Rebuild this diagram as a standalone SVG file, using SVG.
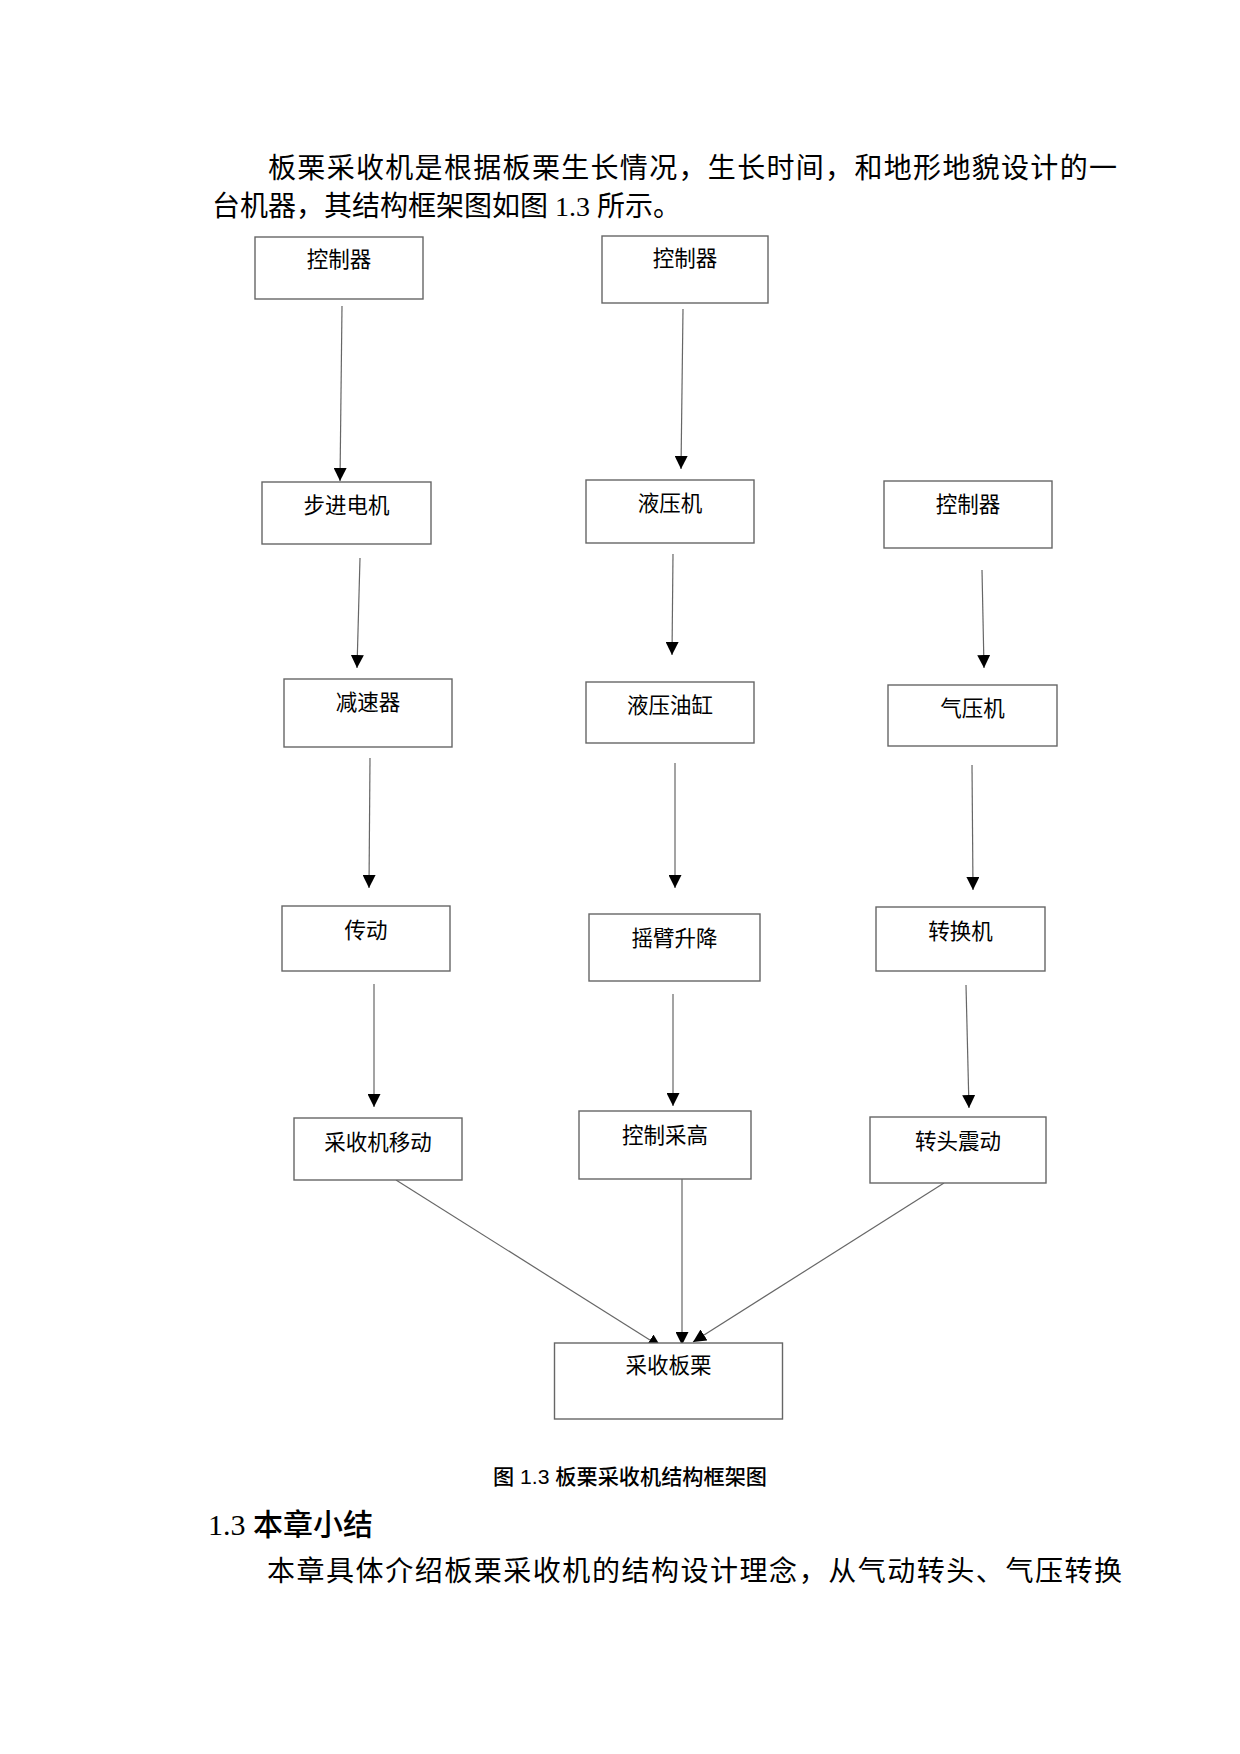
<svg xmlns="http://www.w3.org/2000/svg" width="1240" height="1754" viewBox="0 0 1240 1754">
<style>
.body{font-family:"Liberation Serif","Noto Sans CJK SC",serif;font-size:28px;fill:#000}
.head{font-family:"Liberation Serif","Noto Sans CJK SC",sans-serif;font-size:30px;font-weight:500;fill:#000}
.cap{font-family:"Liberation Sans","Noto Sans CJK SC",sans-serif;font-size:21px;font-weight:500;fill:#000}
.box{fill:#fff;stroke:#666;stroke-width:1.4}
.lbl{font-family:"Liberation Serif","Noto Sans CJK SC",serif;font-size:21.5px;fill:#000;text-anchor:middle}
.conn{stroke:#666;stroke-width:1.2;fill:none;marker-end:url(#ah)}
</style>
<defs>
<marker id="ah" markerUnits="userSpaceOnUse" markerWidth="14" markerHeight="13" refX="13" refY="6.5" orient="auto" viewBox="0 0 14 13">
<path d="M0,0 L13,6.5 L0,13 z" fill="#000"/>
</marker>
</defs>
<rect width="1240" height="1754" fill="#fff"/>
<text class="body" x="268" y="178" textLength="849" lengthAdjust="spacing">板栗采收机是根据板栗生长情况，生长时间，和地形地貌设计的一</text>
<text class="body" x="212" y="216">台机器，其结构框架图如图 1.3 所示。</text>

<g id="connectors">
<line class="conn" x1="342" y1="306" x2="340" y2="481"/>
<line class="conn" x1="683" y1="309" x2="681" y2="469"/>
<line class="conn" x1="360" y1="558" x2="357" y2="668"/>
<line class="conn" x1="673" y1="554" x2="672" y2="655"/>
<line class="conn" x1="982" y1="570" x2="984" y2="668"/>
<line class="conn" x1="370" y1="758" x2="369" y2="888"/>
<line class="conn" x1="675" y1="763" x2="675" y2="888"/>
<line class="conn" x1="972" y1="765" x2="973" y2="890"/>
<line class="conn" x1="374" y1="984" x2="374" y2="1107"/>
<line class="conn" x1="673" y1="994" x2="673" y2="1106"/>
<line class="conn" x1="966" y1="985" x2="969" y2="1108"/>
<line class="conn" x1="396" y1="1180" x2="661" y2="1347"/>
<line class="conn" x1="682" y1="1179" x2="682" y2="1345"/>
<line class="conn" x1="944" y1="1183" x2="693" y2="1342"/>
</g>

<g id="ctrl-a"><rect class="box" x="255" y="237" width="168" height="62"/><text class="lbl" x="339" y="267">控制器</text></g>
<g id="ctrl-b"><rect class="box" x="602" y="236" width="166" height="67"/><text class="lbl" x="685" y="266">控制器</text></g>
<g id="stepper"><rect class="box" x="262" y="482" width="169" height="62"/><text class="lbl" x="346.5" y="513">步进电机</text></g>
<g id="hydraulic"><rect class="box" x="586" y="480" width="168" height="63"/><text class="lbl" x="670" y="511">液压机</text></g>
<g id="ctrl-c"><rect class="box" x="884" y="481" width="168" height="67"/><text class="lbl" x="968" y="512">控制器</text></g>
<g id="reducer"><rect class="box" x="284" y="679" width="168" height="68"/><text class="lbl" x="368" y="710">减速器</text></g>
<g id="cylinder"><rect class="box" x="586" y="682" width="168" height="61"/><text class="lbl" x="670" y="713">液压油缸</text></g>
<g id="pneumatic"><rect class="box" x="888" y="685" width="169" height="61"/><text class="lbl" x="972.5" y="716">气压机</text></g>
<g id="transmission"><rect class="box" x="282" y="906" width="168" height="65"/><text class="lbl" x="366" y="938">传动</text></g>
<g id="arm"><rect class="box" x="589" y="914" width="171" height="67"/><text class="lbl" x="674.5" y="946">摇臂升降</text></g>
<g id="converter"><rect class="box" x="876" y="907" width="169" height="64"/><text class="lbl" x="960.5" y="939">转换机</text></g>
<g id="move"><rect class="box" x="294" y="1118" width="168" height="62"/><text class="lbl" x="378" y="1150">采收机移动</text></g>
<g id="height"><rect class="box" x="579" y="1111" width="172" height="68"/><text class="lbl" x="665" y="1143">控制采高</text></g>
<g id="vibrate"><rect class="box" x="870" y="1117" width="176" height="66"/><text class="lbl" x="958" y="1149">转头震动</text></g>
<g id="harvest"><rect class="box" x="554.5" y="1343" width="228" height="76"/><text class="lbl" x="668.5" y="1373">采收板栗</text></g>

<text class="cap" x="493" y="1484" textLength="274" lengthAdjust="spacingAndGlyphs">图 1.3 板栗采收机结构框架图</text>
<text class="head" x="208" y="1535">1.3 本章小结</text>
<text class="body" x="267" y="1581" textLength="855" lengthAdjust="spacing">本章具体介绍板栗采收机的结构设计理念，从气动转头、气压转换</text>
</svg>
